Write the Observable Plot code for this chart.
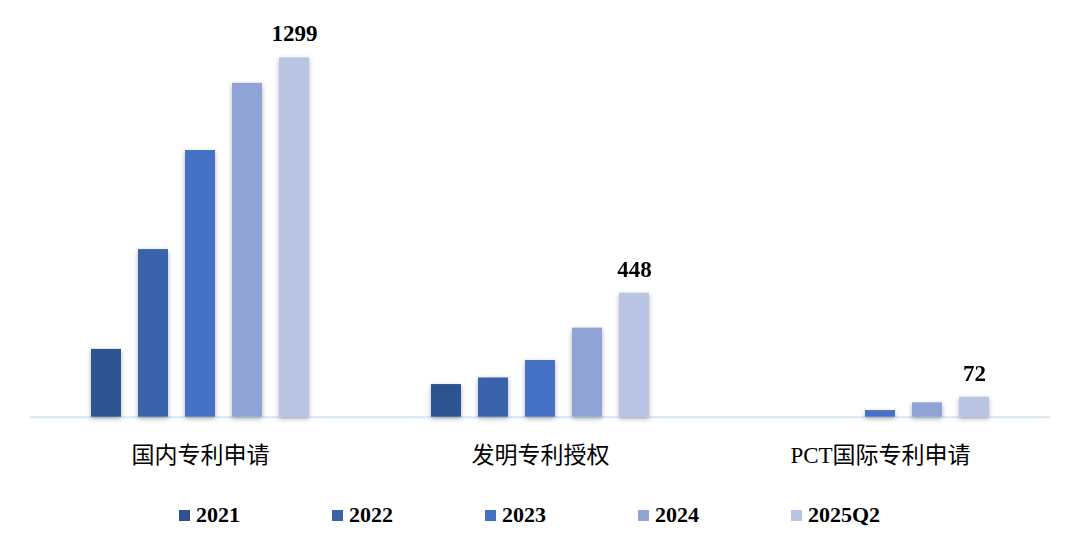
<!DOCTYPE html>
<html>
<head>
<meta charset="utf-8">
<script src="https://cdn.jsdelivr.net/npm/d3@7"></script>
<script src="https://cdn.jsdelivr.net/npm/@observablehq/plot@0.6"></script>
<style>
  html, body { margin: 0; padding: 0; background: #fff; }
  #chart { width: 1080px; }
  #legend {
    display: flex; height: 71px; align-items: flex-start;
    padding-left: 179px; box-sizing: border-box; padding-top: 22px;
    font-family: "Liberation Serif", "Times New Roman", serif; font-weight: bold; font-size: 22px; color: #000;
  }
  .item { display: inline-flex; align-items: center; width: 153px; }
  .sw { width: 11px; height: 11px; margin-right: 6px; }
</style>
</head>
<body>
<div id="chart"></div>
<div id="legend"></div>
<script>
const categories = ["国内专利申请", "发明专利授权", "PCT国际专利申请"];
const years = ["2021", "2022", "2023", "2024", "2025Q2"];
const domestic = [245, 606, 964, 1207, 1299];
const invention = [118, 142, 205, 322, 448];
const pct = [0, 0, 24, 52, 72];
const colors = ["#2F5391", "#3A63AB", "#4472C4", "#8FA4D5", "#B9C4E3"];

const series = [domestic, invention, pct];
const data = [];
categories.forEach((c, i) => years.forEach((y, j) => data.push({category: c, year: y, value: series[i][j]})));
const labelled = data.filter(d => d.year === "2025Q2");

const chart = Plot.plot({
  width: 1080,
  height: 480,
  marginTop: 20,
  marginBottom: 63.3,
  marginLeft: 29,
  marginRight: 30,
  fx: {domain: categories, padding: 0, axis: null},
  x: {domain: years, paddingInner: 0.368, paddingOuter: 1.263, axis: null},
  y: {domain: [0, 1434], axis: null},
  color: {domain: years, range: colors},
  marks: [
    Plot.ruleY([0], {stroke: "#D9E6F4", strokeWidth: 2}),
    Plot.barY(data, {fx: "category", x: "year", y: "value", fill: "year"}),
    Plot.text(labelled, {fx: "category", x: "year", y: "value", text: d => String(d.value),
      dy: -24, lineAnchor: "middle", fontSize: 23, fontWeight: "bold",
      fontFamily: "'Liberation Serif', 'Times New Roman', serif", fill: "#000"}),
    Plot.text(categories, {fx: d => d, text: d => d, frameAnchor: "bottom", dy: 38,
      lineAnchor: "middle", fontSize: 23, fill: "#000",
      fontFamily: "'Liberation Serif', 'Noto Sans CJK SC', sans-serif"})
  ]
});
document.getElementById("chart").appendChild(chart);

// soft shadow on bars
const svg = d3.select(chart);
const defs = svg.insert("defs", ":first-child");
const f = defs.append("filter").attr("id", "shadow").attr("x", "-30%").attr("y", "-10%").attr("width", "160%").attr("height", "130%");
f.append("feDropShadow").attr("dx", 0).attr("dy", 2).attr("stdDeviation", 2.5).attr("flood-color", "#000").attr("flood-opacity", 0.3);
svg.selectAll("g[aria-label='bar']").attr("filter", "url(#shadow)");

const legend = d3.select("#legend");
years.forEach((y, i) => {
  const it = legend.append("div").attr("class", "item");
  it.append("div").attr("class", "sw").style("background", colors[i]);
  it.append("span").text(y);
});
</script>
</body>
</html>
